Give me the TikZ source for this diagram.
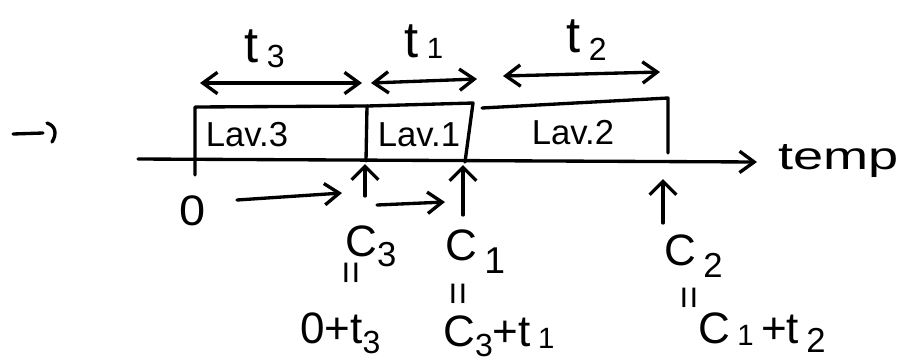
\documentclass[tikz,border=0pt]{standalone}
\usepackage{fontspec}
\usepackage{graphicx}
\setmainfont{Liberation Sans}
\usetikzlibrary{arrows.meta}

% lowered index digit, in the given size
\newcommand\lowidx[3]{\raisebox{-#1}{\fontsize{#2}{#2}\selectfont #3}}

\begin{document}
\begin{tikzpicture}[x=0.75pt,y=-0.75pt,
  pen/.style={line width=2.5pt,line cap=round,line join=round},
  tipbig/.style={-{Straight Barb[length=11pt,width=16pt,line width=2.5pt]}},
  tiptwo/.style={{Straight Barb[length=11pt,width=16pt,line width=2.5pt]}-{Straight Barb[length=11pt,width=16pt,line width=2.5pt]}},
  tipup/.style={-{Straight Barb[length=10pt,width=20pt,line width=2.5pt]}},
  lbl/.style={inner sep=0pt,anchor=base west,font=\fontsize{38}{40}\selectfont},
  lavlbl/.style={inner sep=0pt,font=\fontsize{26}{28}\selectfont},
  clbl/.style={inner sep=0pt,anchor=base west,font=\fontsize{33}{36}\selectfont},
  eqlbl/.style={inner sep=0pt,rotate=90,font=\fontsize{30}{30}\selectfont}]
\useasboundingbox (0,0) rectangle (907,362);

% small arrow mark on the left: a stroke and a hook
\coordinate (m0) at (13,134);
\coordinate (m1) at (43,133);
\coordinate (h0) at (47,123);
\coordinate (h1) at (52,142);
\draw[pen] (m0) -- (m1);
\draw[pen] (h0) .. controls (56,126) and (57,134) .. (h1);

% time axis
\coordinate (ax0) at (138,159);
\coordinate (ax1) at (757,162);
\node[inner sep=0pt,anchor=base west,font=\fontsize{29}{32}\selectfont,xscale=1.4]
  (tempo) at (778,169) {temp};
\draw[pen,tipbig] (ax0) -- (ax1);

% instants on the axis
\coordinate (p0) at (195,161);
\coordinate (p3) at (366,161);
\coordinate (p1) at (465,162);
\coordinate (p2) at (666,162);

% work blocks
\draw[pen] (195,175) -- (195,107) -- (367,106) -- (p3);
\draw[pen] (367,106) -- (473,103) -- (p1);
\draw[pen] (482,108) -- (668,98) -- (668,153);
\node[lavlbl] (lav3) at (247,135) {Lav.3};
\node[lavlbl] (lav1) at (419,135) {Lav.1};
\node[lavlbl] (lav2) at (573,133) {Lav.2};

% durations above the blocks
\coordinate (d3a) at (200,83);  \coordinate (d3b) at (362,83);
\coordinate (d1a) at (371,83);  \coordinate (d1b) at (477,79);
\coordinate (d2a) at (503,76);  \coordinate (d2b) at (660,72);
\draw[pen,tiptwo] (d3a) -- (d3b);
\draw[pen,tiptwo] (d1a) -- (d1b);
\draw[pen,tiptwo] (d2a) -- (d2b);
\node[lbl] (t3) at (244,62) {t\,\lowidx{0.2ex}{24}{3}};
\node[lbl] (t1) at (404,57) {t\,\lowidx{0.05ex}{22}{1}};
\node[lbl] (t2) at (566,52) {t\,\lowidx{0.3ex}{24}{2}};

% start and steps along the axis
\node[inner sep=0pt,font=\fontsize{32}{34}\selectfont,xscale=1.1] (zero) at (193,211) {0};
\coordinate (s0a) at (237,200); \coordinate (s0b) at (342,193);
\coordinate (s1a) at (377,205); \coordinate (s1b) at (445,202);
\draw[pen,tipbig] (s0a) -- (s0b);
\draw[pen,tipbig] (s1a) -- (s1b);

% completion times
\coordinate (u3) at (365,196);
\coordinate (u1) at (463,215);
\coordinate (u2) at (663,223);
\draw[pen,tipup] (u3) -- (365,164);
\draw[pen,tipup] (u1) -- (463,165);
\draw[pen,tipup] (u2) -- (663,179);

\node[clbl] (c3) at (345,256) {C\lowidx{0.45ex}{26}{3}};
\node[clbl] (c1) at (445,260) {C\,\lowidx{0.6ex}{28}{1}};
\node[clbl] (c2) at (664,265) {C\,\lowidx{0.55ex}{26}{2}};
\node[eqlbl] (e3) at (355,273) {=};
\node[eqlbl] (e1) at (462,294) {=};
\node[eqlbl] (e2) at (693,298) {=};

\node[clbl] (f3) at (300,343) {0+t\lowidx{0.45ex}{24}{3}};
\node[clbl] (f1) at (443,346) {C\lowidx{0.45ex}{24}{3}+t\,\lowidx{0.1ex}{22}{1}};
\node[clbl] (f2) at (698,343) {C\,\lowidx{0.1ex}{22}{1}\,+t\,\lowidx{0.4ex}{26}{2}};
\end{tikzpicture}
\end{document}
